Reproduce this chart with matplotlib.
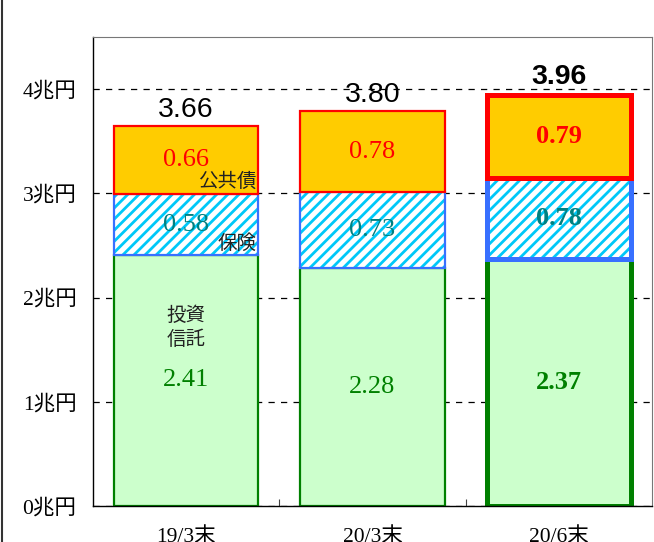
import numpy as np
import matplotlib.pyplot as plt
from matplotlib.lines import Line2D

plt.rcParams['hatch.linewidth'] = 2.0

# データ（兆円）
categories = ['19/3末', '20/3末', '20/6末']
toushin = [2.41, 2.28, 2.37]      # 投資信託
hoken = [0.58, 0.73, 0.78]        # 保険
koukyousai = [0.66, 0.78, 0.79]   # 公共債
totals = ['3.66', '3.80', '3.96']
yticks = [0, 1, 2, 3, 4]
ytick_labels = ['0兆円', '1兆円', '2兆円', '3兆円', '4兆円']

serif = ['Liberation Serif', 'Noto Sans CJK JP']
cjk = ['Noto Sans CJK JP', 'DejaVu Sans']

fig = plt.figure(figsize=(6.54, 5.42), dpi=100)
ax = fig.add_axes([93 / 654, 36 / 542, 559 / 654, 469 / 542])

x = np.arange(len(categories))
w = 0.775
toushin = np.array(toushin)
hoken = np.array(hoken)
koukyousai = np.array(koukyousai)
lw = [1.6, 1.6, 3.6]
bold = ['normal', 'normal', 'bold']
off = [2, 2, 4]

for i in range(len(x)):
    # 投資信託
    ax.bar(x[i], toushin[i], w, color='#CCFFCC', edgecolor='#008000', linewidth=lw[i], zorder=2)
    # 保険（斜線）
    ax.bar(x[i], hoken[i], w, bottom=toushin[i], color='white', edgecolor='#00C8F8',
           hatch='///', linewidth=0, zorder=2)
    ax.bar(x[i], hoken[i], w, bottom=toushin[i], fill=False, edgecolor='#3870FF',
           linewidth=lw[i], zorder=3)
    # 公共債
    ax.bar(x[i], koukyousai[i], w, bottom=toushin[i] + hoken[i], color='#FFCC00',
           edgecolor='#FF0000', linewidth=lw[i], zorder=3)

    # 数値ラベル
    ax.text(x[i], toushin[i] / 2, '%.2f' % toushin[i], ha='center', va='center',
            color='#008000', fontsize=19, family=serif, fontweight=bold[i], zorder=5)
    ax.text(x[i], toushin[i] + hoken[i] / 2, '%.2f' % hoken[i], ha='center', va='center',
            color='#008080', fontsize=19, family=serif, fontweight=bold[i], zorder=5)
    ax.text(x[i], toushin[i] + hoken[i] + koukyousai[i] / 2, '%.2f' % koukyousai[i],
            ha='center', va='center', color='#FF0000', fontsize=19, family=serif,
            fontweight=bold[i], zorder=5)
    top = toushin[i] + hoken[i] + koukyousai[i]
    ax.annotate(totals[i], (x[i], top), xytext=(0, off[i]), textcoords='offset points',
                ha='center', va='bottom', fontsize=20.5, family=['Liberation Sans'],
                fontweight=bold[i], zorder=5)

# 系列名
ax.text(x[0] + w / 2 - 0.01, toushin[0] + hoken[0] + 0.02, '公共債', ha='right', va='bottom',
        fontsize=14, family=cjk, color='#222222', zorder=5)
ax.text(x[0] + w / 2 - 0.01, toushin[0] + 0.01, '保険', ha='right', va='bottom',
        fontsize=14, family=cjk, color='#222222', zorder=5)
ax.text(x[0], 1.71, '投資\n信託', ha='center', va='center', linespacing=1.2,
        fontsize=14, family=cjk, color='#222222', zorder=5)

ax.set_xlim(-0.5, 2.5)
ax.set_ylim(0, 4.5)
ax.set_yticks(yticks)
ax.set_yticklabels(ytick_labels, family=serif, fontsize=15.5)
ax.tick_params(axis='y', length=0, pad=12)
ax.set_xticks(x)
ax.set_xticklabels(categories, family=serif, fontsize=15.5)
ax.tick_params(axis='x', which='major', length=0, pad=15)
ax.set_xticks([0.5, 1.5], minor=True)
ax.tick_params(axis='x', which='minor', direction='in', length=5, width=0.8, color='#444444')

ax.yaxis.grid(True, linestyle=(0, (5, 5)), color='black', linewidth=0.9)
ax.set_axisbelow(True)
for s in ['top', 'right']:
    ax.spines[s].set_color('#777777')
ax.spines['left'].set_linewidth(1.0)
ax.spines['bottom'].set_linewidth(1.0)

# 外枠（左端）
fig.add_artist(Line2D([2 / 654, 2 / 654], [0, 1], color='#333333', linewidth=1.5,
                      transform=fig.transFigure))

fig.savefig('out.png', dpi=100)
